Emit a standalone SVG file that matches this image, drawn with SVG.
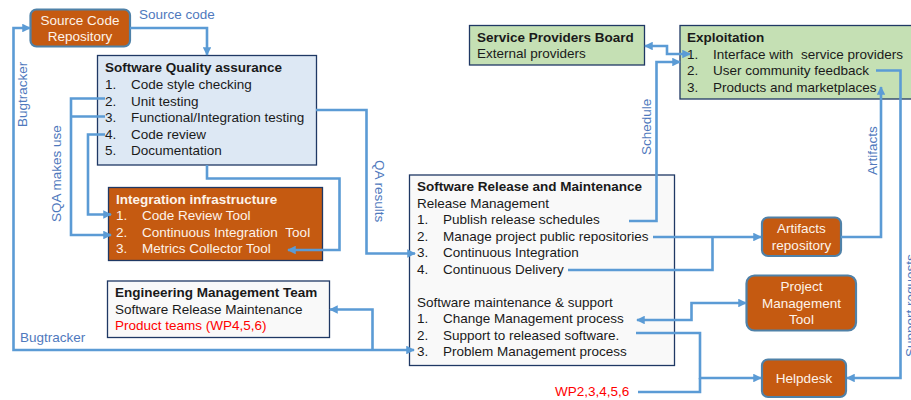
<svg xmlns="http://www.w3.org/2000/svg" width="911" height="400" viewBox="0 0 911 400">
<style>
text{font-family:"Liberation Sans",Arial,sans-serif;font-size:13.5px;fill:#1a1a1a}
.b{font-weight:bold}
.w{fill:#fdf3ea}
.c{text-anchor:middle}
.r{fill:#ff0000}
.l{fill:#4f79bd}
.box{stroke:#1f3864;stroke-width:1.3}
.tool{fill:#c55a11;stroke:#4f81a8;stroke-width:2.2}
.blue{fill:#dde8f4}.org{fill:#c55a11}.grn{fill:#c5e0b4}.wht{fill:#f9f9f9}
#connectors path{fill:none;stroke:#5b9bd5;stroke-width:2.6}
</style>
<defs>
<marker id="a" viewBox="0 0 10 10" refX="9" refY="5" markerWidth="3.3" markerHeight="3.3" orient="auto-start-reverse"><path d="M0 0L10 5L0 10z" fill="#5b9bd5"/></marker>
</defs>
<g id="sqa"><rect class="box blue" x="97.500" y="55.500" width="219" height="109.500"/>
<text class="b" x="105" y="72">Software Quality assurance</text>
<text x="105" y="89">1.</text><text x="131" y="89">Code style checking</text>
<text x="105" y="105.500">2.</text><text x="131" y="105.500">Unit testing</text>
<text x="105" y="122">3.</text><text x="131" y="122">Functional/Integration testing</text>
<text x="105" y="138.500">4.</text><text x="131" y="138.500">Code review</text>
<text x="105" y="155">5.</text><text x="131" y="155">Documentation</text></g>
<g id="integration"><rect class="box org" x="108.500" y="187.500" width="214" height="73"/>
<text class="b w" x="116" y="204">Integration infrastructure</text>
<text class="w" x="116" y="220">1.</text><text class="w" x="142" y="220">Code Review Tool</text>
<text class="w" x="116" y="237">2.</text><text class="w" x="142" y="237">Continuous Integration <tspan dx="4">Tool</tspan></text>
<text class="w" x="116" y="253">3.</text><text class="w" x="142" y="253">Metrics Collector Tool</text></g>
<g id="engineering"><rect class="box wht" x="107.500" y="281" width="222" height="56.500"/>
<text class="b" x="115" y="297">Engineering Management Team</text>
<text x="115" y="314">Software Release Maintenance</text>
<text class="r" x="115" y="330">Product teams (WP4,5,6)</text></g>
<g id="release"><rect class="box wht" x="409.500" y="175" width="265" height="190.500"/>
<text class="b" x="417" y="191">Software Release and Maintenance</text>
<text x="417" y="208">Release Management</text>
<text x="417" y="224">1.</text><text x="443" y="224">Publish release schedules</text>
<text x="417" y="241">2.</text><text x="443" y="241">Manage project public repositories</text>
<text x="417" y="257">3.</text><text x="443" y="257">Continuous Integration</text>
<text x="417" y="274">4.</text><text x="443" y="274">Continuous Delivery</text>
<text x="417" y="307">Software maintenance &amp; support</text>
<text x="417" y="323">1.</text><text x="443" y="323">Change Management process</text>
<text x="417" y="340">2.</text><text x="443" y="340">Support to released software.</text>
<text x="417" y="356">3.</text><text x="443" y="356">Problem Management process</text></g>
<g id="providers"><rect class="box grn" x="469.500" y="25.500" width="175" height="39.500"/>
<text class="b" x="477" y="42">Service Providers Board</text>
<text x="477" y="58">External providers</text></g>
<g id="exploitation"><rect class="box grn" x="680" y="25.500" width="235" height="73.500"/>
<text class="b" x="687" y="42">Exploitation</text>
<text x="687" y="59">1.</text><text x="713" y="59">Interface with <tspan dx="4">service providers</tspan></text>
<text x="687" y="75">2.</text><text x="713" y="75">User community feedback</text>
<text x="687" y="92">3.</text><text x="713" y="92">Products and marketplaces</text></g>
<g id="source"><rect class="tool" x="30.500" y="9.500" width="99.500" height="37" rx="6"/>
<text class="w c" x="80" y="24.500">Source Code</text><text class="w c" x="80" y="41">Repository</text></g>
<g id="artifacts"><rect class="tool" x="762" y="217.500" width="79" height="38.500" rx="6"/>
<text class="w c" x="801.500" y="233">Artifacts</text><text class="w c" x="801.500" y="250">repository</text></g>
<g id="pmt"><rect class="tool" x="746.500" y="275.500" width="109.500" height="55" rx="8"/>
<text class="w c" x="801.500" y="291">Project</text><text class="w c" x="801.500" y="308">Management</text><text class="w c" x="801.500" y="324">Tool</text></g>
<g id="helpdesk"><rect class="tool" x="762" y="359.500" width="84" height="37.500" rx="6"/>
<text class="w c" x="804" y="383">Helpdesk</text></g>
<g id="connectors">
<path d="M130 28H207V55" marker-end="url(#a)"/>
<path d="M414 350H13.500V28H30" marker-start="url(#a)" marker-end="url(#a)"/>
<path d="M105 98.500H71V235H111" marker-end="url(#a)"/>
<path d="M105 116.500H71"/>
<path d="M105 134.500H88V214.500H111" marker-end="url(#a)"/>
<path d="M207 165V178.500H339.500V250H288" marker-end="url(#a)"/>
<path d="M316 110H366.500V253.500H415" marker-end="url(#a)"/>
<path d="M372.500 350V309.500H330" marker-end="url(#a)"/>
<path d="M629 221H656.500V62H680" marker-end="url(#a)"/>
<path d="M653 237H761" marker-end="url(#a)"/>
<path d="M568 270H712.500V237"/>
<path d="M841 237H881V87" marker-end="url(#a)"/>
<path d="M876 70.500H900.500V378H847" marker-end="url(#a)"/>
<path d="M645 46H667V54H690" marker-start="url(#a)" marker-end="url(#a)"/>
<path d="M637 320H691.500V303H746" marker-start="url(#a)" marker-end="url(#a)"/>
<path d="M636 333H700V378H761" marker-end="url(#a)"/>
<path d="M638 392H700V378"/>
</g>
<g id="labels">
<text class="l" x="139" y="19">Source code</text>
<text class="l" x="20" y="342">Bugtracker</text>
<text class="l" transform="translate(27 127) rotate(-90)">Bugtracker</text>
<text class="l" transform="translate(61 222) rotate(-90)">SQA makes use</text>
<text class="l" transform="translate(375 160) rotate(90)">QA results</text>
<text class="l" transform="translate(651 155) rotate(-90)">Schedule</text>
<text class="l" transform="translate(877 175) rotate(-90)">Artifacts</text>
<text class="l" transform="translate(915 357) rotate(-90)">Support requests</text>
<text class="r" x="555" y="396">WP2,3,4,5,6</text>
</g>
</svg>
